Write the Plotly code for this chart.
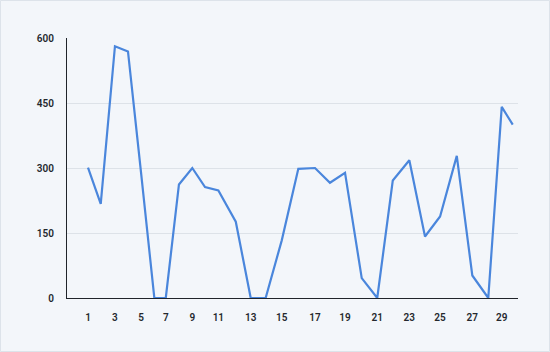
import plotly.graph_objects as go

# Data
days = list(range(1, 31))
# horizontal position of each day on the axis (spacing is not uniform)
x_pos = [1.00, 1.87, 2.84, 3.73, 4.62, 5.53, 6.31, 7.21, 8.12, 8.99,
         9.90, 11.09, 12.11, 13.13, 14.23, 15.36, 16.50, 17.52, 18.55, 19.69,
         20.75, 21.81, 22.94, 24.01, 25.04, 26.18, 27.24, 28.33, 29.25, 30.00]
values = [301, 217, 581, 569, 290, 0, 0, 262, 300, 256,
          248, 176, 0, 0, 133, 298, 300, 266, 289, 46,
          0, 271, 318, 142, 188, 328, 52, 0, 441, 400]
y_ticks = [0, 150, 300, 450, 600]

tick_days = days[::2]
tick_pos = x_pos[::2]
tick_text = [str(d) for d in tick_days]

W, H = 550, 352
ML, MR, MT, MB = 67, 32, 38, 54
PW, PH = W - ML - MR, H - MT - MB

fig = go.Figure()
fig.add_trace(go.Scatter(
    x=x_pos, y=values, mode="lines",
    line=dict(color="#4a86dc", width=2.2),
    hoverinfo="skip", showlegend=False,
))

font = dict(family="Roboto, 'Noto Sans', sans-serif", size=10, color="#24282e", weight=600)

fig.update_layout(
    width=W, height=H,
    margin=dict(l=ML, r=MR, t=MT, b=MB, pad=0),
    paper_bgcolor="#f3f6fa",
    plot_bgcolor="#f3f6fa",
    showlegend=False,
    xaxis=dict(
        range=[-0.434, 30.36],
        tickmode="array", tickvals=tick_pos, ticktext=tick_text,
        showgrid=False, zeroline=False,
        showline=True, linecolor="#20242a", linewidth=1.3,
        ticks="", ticklabelstandoff=10,
        tickfont=font, fixedrange=True,
    ),
    yaxis=dict(
        range=[0, 600],
        tickmode="array", tickvals=y_ticks,
        showgrid=True, gridcolor="#dde2e8", gridwidth=1,
        zeroline=False,
        showline=True, linecolor="#20242a", linewidth=1.3,
        ticks="", ticklabelstandoff=10,
        tickfont=font, fixedrange=True,
    ),
    shapes=[dict(
        type="rect", xref="paper", yref="paper",
        x0=(-ML + 0.5) / PW, x1=1 + (MR - 0.5) / PW,
        y0=(-MB + 0.5) / PH, y1=1 + (MT - 0.5) / PH,
        line=dict(color="#dde3ea", width=1), fillcolor="rgba(0,0,0,0)",
        layer="below",
    )],
)

fig.write_html("out.html", config=dict(displayModeBar=False))
